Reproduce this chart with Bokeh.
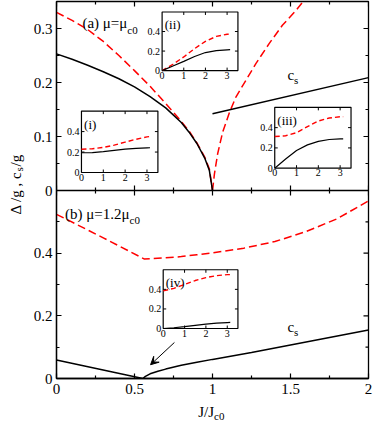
import math
from bokeh.plotting import figure
from bokeh.models import Range1d, LinearAxis, FixedTicker, Label, Arrow, VeeHead, Span
from bokeh.layouts import row, column
from bokeh.embed import file_html
from bokeh.resources import INLINE
from bokeh.core.properties import value

# ---------------- data ----------------
# panel (a)  mu = mu_c0
J_A = [0, 0.1, 0.2, 0.3, 0.4, 0.5, 0.6, 0.7, 0.8, 0.85, 0.9, 0.95, 0.98, 1.0]
RED_A = [0.330, 0.315, 0.298, 0.276, 0.250, 0.222, 0.193, 0.161, 0.128, 0.110, 0.088, 0.062, 0.040, 0.0]
BLACK_A = [0.253, 0.243, 0.232, 0.220, 0.207, 0.192, 0.174, 0.153, 0.126, 0.108, 0.087, 0.060, 0.037, 0.0]
J_A_HIGH = [1.0, 1.012, 1.033, 1.065, 1.108, 1.15, 1.214, 1.278, 1.363, 1.448, 1.534, 1.59]
RED_A_HIGH = [0.0, 0.030, 0.068, 0.108, 0.144, 0.173, 0.204, 0.235, 0.272, 0.306, 0.333, 0.353]
J_CS_A = [1.0, 2.0]
CS_A = [0.142, 0.209]
J_ZERO_A = [1.0, 2.0]
ZERO_A = [0.0, 0.0]

# panel (b)  mu = 1.2 mu_c0
J_B_RED = [0, 0.3, 0.564, 0.6, 0.7, 0.8, 0.9, 1.0, 1.2, 1.4, 1.6, 1.8, 2.0]
RED_B = [0.524, 0.449, 0.381, 0.382, 0.385, 0.389, 0.395, 0.401, 0.416, 0.437, 0.469, 0.510, 0.567]
J_B_BLACK = [0, 0.553, 0.57, 0.6, 0.65, 0.7, 0.8, 0.9, 1.0, 1.25, 1.5, 1.75, 2.0]
BLACK_B = [0.0587, 0.0, 0.007, 0.015, 0.023, 0.030, 0.042, 0.052, 0.061, 0.083, 0.107, 0.131, 0.155]
ARROW_FROM = [0.756, 0.115]
ARROW_TO = [0.603, 0.044]

# insets
X_INS = [0, 0.5, 1, 1.5, 2, 2.5, 3, 3.14]
RED_I = [0.228, 0.232, 0.245, 0.268, 0.297, 0.325, 0.348, 0.352]
BLACK_I = [0.193, 0.195, 0.205, 0.217, 0.228, 0.236, 0.241, 0.242]
RED_II = [0, 0.065, 0.14, 0.225, 0.30, 0.35, 0.372, 0.375]
BLACK_II = [0, 0.048, 0.095, 0.145, 0.185, 0.205, 0.213, 0.214]
RED_III = [0.312, 0.32, 0.35, 0.41, 0.465, 0.495, 0.507, 0.508]
BLACK_III = [0, 0.09, 0.175, 0.23, 0.265, 0.283, 0.29, 0.29]
RED_IV = [0.385, 0.41, 0.45, 0.49, 0.52, 0.54, 0.55, 0.55]
BLACK_IV = [0, 0.008, 0.02, 0.033, 0.045, 0.055, 0.061, 0.062]

# axes / ticks
X_TICKS = [0, 0.5, 1, 1.5, 2]
X_LABELS = ["0", "0.5", "1", "1.5", "2"]
X_MINOR = [0.25, 0.75, 1.25, 1.75]
A_YTICKS = [0, 0.1, 0.2, 0.3]
A_YLABELS = ["0", "0.1", "0.2", "0.3"]
A_YMINOR = [0.05, 0.15, 0.25]
B_YTICKS = [0, 0.2, 0.4]
B_YLABELS = ["0", "0.2", "0.4"]
B_YMINOR = [0.1, 0.3, 0.5]
A_YMAX = 0.35
B_YMAX = 0.6
INSET_XLIM = [0, 3.5]
INSET_YLIM = [0, 0.6]
INS_XTICKS = [0, 1, 2, 3]
INS_XLABELS = ["0", "1", "2", "3"]
INS_YTICKS = [0, 0.2, 0.4]
INS_YLABELS = ["0", "0.2", "0.4"]

FONT = "Liberation Serif"
RED = "#ff0000"

# ---------------- layout (pixels) ----------------
W_LAB, W_MAIN, H = 30, 344, 421
H_MAIN, H_TITLE = 401, 20
FRAME_LEFT, FRAME_RIGHT = 55, 368
FRAME_TOP, SPLIT, FRAME_BOTTOM = 1, 190, 378
A_PX = SPLIT - FRAME_TOP
B_PX = FRAME_BOTTOM - SPLIT
MB_LEFT = FRAME_LEFT - W_LAB
MB_RIGHT = W_LAB + W_MAIN - FRAME_RIGHT

Y_END = B_YMAX * (FRAME_BOTTOM - FRAME_TOP) / B_PX          # default range: panel (b) units
A_RANGE = Range1d(-A_YMAX * B_PX / A_PX, A_YMAX)             # panel (a) units


def a_to_main(v):
    return B_YMAX + v * (Y_END - B_YMAX) / A_YMAX


p = figure(width=W_MAIN, height=H_MAIN, x_range=Range1d(0, 2), y_range=Range1d(0, Y_END),
           x_axis_type=None, y_axis_type=None, toolbar_location=None, output_backend="svg",
           min_border_left=MB_LEFT, min_border_right=MB_RIGHT,
           min_border_top=FRAME_TOP, min_border_bottom=H_MAIN - FRAME_BOTTOM,
           outline_line_color="black", outline_line_width=1.3,
           background_fill_color="white", border_fill_color="white")
p.extra_y_ranges = {"a": A_RANGE}

# left axis carrying the tick labels of both panels
y_major = B_YTICKS + [a_to_main(v) for v in A_YTICKS]
y_labels = B_YLABELS + A_YLABELS
y_minor = B_YMINOR + [a_to_main(v) for v in A_YMINOR]
yax = LinearAxis(ticker=FixedTicker(ticks=y_major, minor_ticks=y_minor),
                 major_label_overrides=dict(zip(y_major, y_labels)),
                 axis_line_width=1.3, major_tick_in=5, major_tick_out=0,
                 minor_tick_in=3, minor_tick_out=0, major_tick_line_width=1.2,
                 minor_tick_line_width=1.2, major_label_text_font=FONT,
                 major_label_text_font_size="15px", major_label_text_color="black",
                 major_label_standoff=4)
p.add_layout(yax, "left")

xax = LinearAxis(ticker=FixedTicker(ticks=X_TICKS, minor_ticks=X_MINOR),
                 major_label_overrides=dict(zip(X_TICKS, X_LABELS)),
                 axis_line_width=1.3, major_tick_in=5, major_tick_out=0,
                 minor_tick_in=3, minor_tick_out=0, major_tick_line_width=1.2,
                 minor_tick_line_width=1.2, major_label_text_font=FONT,
                 major_label_text_font_size="15px", major_label_text_color="black",
                 major_label_standoff=5)
p.add_layout(xax, "below")

# boundary between the two panels
p.add_layout(Span(location=B_YMAX, dimension="width", line_color="black", line_width=1.3))

# inward ticks on the top, right and on the shared boundary
tk = dict(length_units="screen", line_color="black", line_width=1.2)
p.ray(x=X_TICKS, y=Y_END, length=5, angle=-math.pi / 2, **tk)
p.ray(x=X_MINOR, y=Y_END, length=3, angle=-math.pi / 2, **tk)
p.ray(x=X_TICKS, y=B_YMAX, length=5, angle=-math.pi / 2, **tk)
p.ray(x=X_MINOR, y=B_YMAX, length=3, angle=-math.pi / 2, **tk)
p.ray(x=X_TICKS, y=B_YMAX, length=5, angle=math.pi / 2, **tk)
p.ray(x=X_MINOR, y=B_YMAX, length=3, angle=math.pi / 2, **tk)
p.ray(x=2, y=y_major, length=5, angle=math.pi, **tk)
p.ray(x=2, y=y_minor, length=3, angle=math.pi, **tk)

# ---------------- panel (a) curves ----------------
ka = dict(y_range_name="a")
p.line(J_A, RED_A, line_color=RED, line_width=1.5, line_dash="8 4", **ka)
p.line(J_A_HIGH, RED_A_HIGH, line_color=RED, line_width=1.5, line_dash="8 4", **ka)
p.line(J_A, BLACK_A, line_color="black", line_width=1.5, **ka)
p.line(J_CS_A, CS_A, line_color="black", line_width=1.5, **ka)
p.line(J_ZERO_A, ZERO_A, line_color="black", line_width=1, line_dash="6 4", **ka)

# ---------------- panel (b) curves ----------------
p.line(J_B_RED, RED_B, line_color=RED, line_width=1.5, line_dash="8 4")
p.line(J_B_BLACK, BLACK_B, line_color="black", line_width=1.5)
p.add_layout(Arrow(x_start=ARROW_FROM[0], y_start=ARROW_FROM[1],
                   x_end=ARROW_TO[0], y_end=ARROW_TO[1], line_width=1, line_color="black",
                   end=VeeHead(size=8, line_width=1, line_color="black", fill_color="black")))


def sub_label(fig, x, y, main, sub, drop, yname="default", size=15, subsize=11):
    fig.add_layout(Label(x=x, y=y, text=main, text_align="right", text_baseline="alphabetic",
                         text_font=FONT, text_font_size=f"{size}px", text_color="black",
                         y_range_name=yname))
    fig.add_layout(Label(x=x, y=y, y_offset=-drop, text=sub, text_align="left",
                         text_baseline="alphabetic", text_font=FONT,
                         text_font_size=f"{subsize}px", text_color="black", y_range_name=yname))


sub_label(p, 0.454, 0.311, "(a) μ=μ", "c0", 7, "a")
sub_label(p, 1.523, 0.213, "c", "s", 5, "a")
sub_label(p, 0.468, 0.525, "(b) μ=1.2μ", "c0", 6)
sub_label(p, 1.523, 0.163, "c", "s", 5)


# ---------------- insets ----------------
def inset(name, box, parent_y, xs, red, black, tag):
    bx0, bx1, by0, by1 = box
    kx = (INSET_XLIM[1] - INSET_XLIM[0]) / (bx1 - bx0)
    ky = (INSET_YLIM[1] - INSET_YLIM[0]) / (by1 - by0)
    xr = Range1d(INSET_XLIM[0] - (bx0 - p.x_range.start) * kx,
                 INSET_XLIM[0] + (p.x_range.end - bx0) * kx)
    yr = Range1d(INSET_YLIM[0] - (by0 - parent_y.start) * ky,
                 INSET_YLIM[0] + (parent_y.end - by0) * ky)
    ex = dict(p.extra_x_ranges); ex[name] = xr; p.extra_x_ranges = ex
    ey = dict(p.extra_y_ranges); ey[name] = yr; p.extra_y_ranges = ey
    kw = dict(x_range_name=name, y_range_name=name)
    p.quad(left=[INSET_XLIM[0]], right=[INSET_XLIM[1]], bottom=[INSET_YLIM[0]], top=[INSET_YLIM[1]],
           fill_color="white", line_color="black", line_width=1.2, **kw)
    p.line(xs, red, line_color=RED, line_width=1.4, line_dash="5 3", **kw)
    p.line(xs, black, line_color="black", line_width=1.2, **kw)
    tks = dict(length=3, length_units="screen", line_color="black", line_width=1, **kw)
    p.ray(x=INS_XTICKS[1:], y=INSET_YLIM[0], angle=math.pi / 2, **tks)
    p.ray(x=INS_XTICKS[1:], y=INSET_YLIM[1], angle=-math.pi / 2, **tks)
    p.ray(x=INSET_XLIM[0], y=INS_YTICKS[1:], angle=0, **tks)
    p.ray(x=INSET_XLIM[1], y=INS_YTICKS[1:], angle=math.pi, **tks)
    tf = dict(text_font=value(FONT), text_font_size="10px", text_color="black", **kw)
    p.text(x=INS_XTICKS, y=INSET_YLIM[0], text=INS_XLABELS, text_align="center",
           text_baseline="top", y_offset=1, **tf)
    p.text(x=INSET_XLIM[0], y=INS_YTICKS, text=INS_YLABELS, text_align="right",
           text_baseline="middle", x_offset=-2, **tf)
    p.text(x=[0.12], y=[0.47], text=[tag], text_align="left", text_baseline="alphabetic",
           text_font=value(FONT), text_font_size="13px", text_color="black", **kw)


inset("i", (0.160, 0.650, 0.0333, 0.147), A_RANGE, X_INS, RED_I, BLACK_I, "(i)")
inset("ii", (0.677, 1.163, 0.222, 0.3306), A_RANGE, X_INS, RED_II, BLACK_II, "(ii)")
inset("iii", (1.399, 1.888, 0.0413, 0.154), A_RANGE, X_INS, RED_III, BLACK_III, "(iii)")
inset("iv", (0.684, 1.163, 0.1595, 0.347), p.y_range, X_INS, RED_IV, BLACK_IV, "(iv)")

# ---------------- x title strip (J/J_c0) ----------------
pt = figure(width=W_MAIN, height=H_TITLE, x_range=Range1d(0, 2), y_range=Range1d(0, H_TITLE),
            x_axis_type=None, y_axis_type=None, toolbar_location=None, output_backend="svg",
            min_border_left=MB_LEFT, min_border_right=MB_RIGHT, min_border_top=0,
            min_border_bottom=0, outline_line_color=None)
pt.add_layout(Label(x=1.01, y=10, text="J/J", text_align="right", text_baseline="alphabetic",
                    text_font=FONT, text_font_size="15px", text_color="black"))
pt.add_layout(Label(x=1.01, y=6, text="c0", text_align="left", text_baseline="alphabetic",
                    text_font=FONT, text_font_size="11px", text_color="black"))

# ---------------- shared y title ----------------
pl = figure(width=W_LAB, height=H, x_range=Range1d(0, W_LAB), y_range=Range1d(0, H),
            x_axis_type=None, y_axis_type=None, toolbar_location=None, output_backend="svg",
            min_border=0, outline_line_color=None)
pl.add_layout(Label(x=15.5, y=250, angle=math.pi / 2, text="Δ /g , c", text_align="right",
                    text_baseline="alphabetic", text_font=FONT, text_font_size="15px",
                    text_color="black"))
pl.add_layout(Label(x=18.5, y=250, angle=math.pi / 2, text="s", text_align="left",
                    text_baseline="alphabetic", text_font=FONT, text_font_size="11px",
                    text_color="black"))
pl.add_layout(Label(x=15.5, y=255, angle=math.pi / 2, text=" /g", text_align="left",
                    text_baseline="alphabetic", text_font=FONT, text_font_size="15px",
                    text_color="black"))

layout = row(pl, column(p, pt))
open("out.html", "w").write(file_html(layout, INLINE))
